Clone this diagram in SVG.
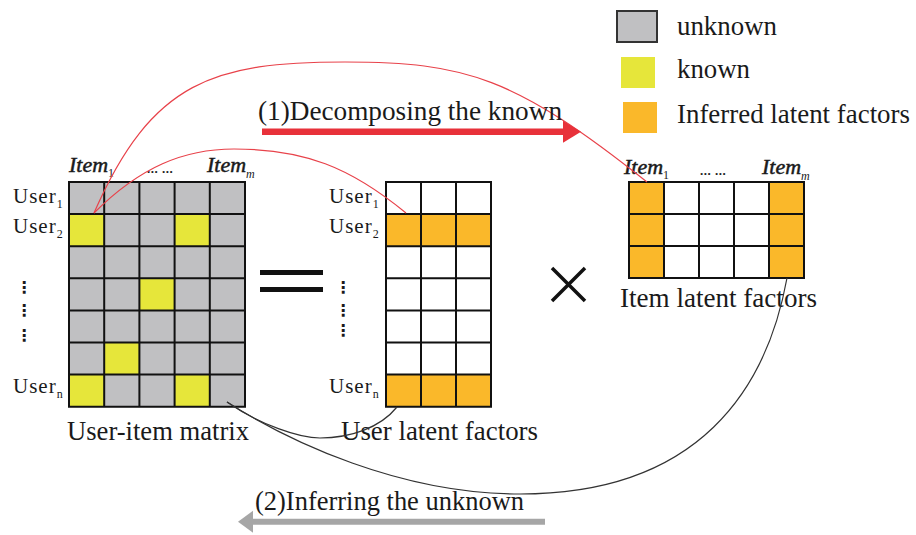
<svg xmlns="http://www.w3.org/2000/svg" width="916" height="535" viewBox="0 0 916 535">
<style>
text{font-family:"Liberation Serif","Times New Roman",serif;fill:#1a1a1a}
.lbl{font-size:27px}
.user{font-size:21px;letter-spacing:1px}
.sub{font-size:12px;letter-spacing:0}
.item{font-size:22px;font-style:italic;stroke:#1a1a1a;stroke-width:0.5}
.isub{font-size:12px;font-style:italic;stroke:none}
.nsub{font-size:12px;font-style:normal;stroke:none}
.dots{font-size:13px;font-weight:bold;letter-spacing:0.5px}
.vd{font-family:"DejaVu Sans",sans-serif;font-size:16px;font-weight:bold}
.grid{fill:none;stroke:#111;stroke-width:2}
.gray{fill:#c0c0c2}
.yel{fill:#e6e63a}
.org{fill:#fab82a}
.wht{fill:#fff}
.red{fill:none;stroke:#e8424a;stroke-width:1.2}
.blk{fill:none;stroke:#333;stroke-width:1.2}
.op{stroke:#111;fill:none}
</style>
<defs>
<marker id="redHead" markerUnits="userSpaceOnUse" markerWidth="20" markerHeight="24" refX="0" refY="11" orient="auto">
<path d="M0,0 L18,11 L0,22 z" fill="#e8313a"/>
</marker>
<marker id="grayHead" markerUnits="userSpaceOnUse" markerWidth="18" markerHeight="24" refX="0" refY="11" orient="auto">
<path d="M0,0 L15,11 L0,22 z" fill="#a6a6a6"/>
</marker>
</defs>

<g id="legend">
<rect x="617" y="11" width="40" height="31" class="gray" stroke="#333" stroke-width="2"/>
<text x="677" y="35" class="lbl" textLength="100" lengthAdjust="spacingAndGlyphs">unknown</text>
<rect x="621" y="57" width="34" height="31" class="yel"/>
<text x="677" y="78" class="lbl" textLength="73" lengthAdjust="spacingAndGlyphs">known</text>
<rect x="623" y="102" width="34" height="31" class="org"/>
<text x="677" y="123" class="lbl" textLength="233" lengthAdjust="spacingAndGlyphs">Inferred latent factors</text>
</g>

<g id="user-item-matrix">
<rect x="69" y="182" width="176" height="224.7" class="gray"/>
<rect x="69" y="214.1" width="35.2" height="32.1" class="yel"/>
<rect x="174.6" y="214.1" width="35.2" height="32.1" class="yel"/>
<rect x="139.4" y="278.3" width="35.2" height="32.1" class="yel"/>
<rect x="104.2" y="342.5" width="35.2" height="32.1" class="yel"/>
<rect x="69" y="374.6" width="35.2" height="32.1" class="yel"/>
<rect x="174.6" y="374.6" width="35.2" height="32.1" class="yel"/>
<path class="grid" d="M69,182H245V406.7H69Z M104.2,182V406.7 M139.4,182V406.7 M174.6,182V406.7 M209.8,182V406.7 M69,214.1H245 M69,246.2H245 M69,278.3H245 M69,310.4H245 M69,342.5H245 M69,374.6H245"/>
<text x="69" y="172" class="item">Item<tspan class="nsub" dy="5">1</tspan></text>
<text x="147" y="173" class="dots">... ...</text>
<text x="207" y="172" class="item">Item<tspan class="isub" dy="6">m</tspan></text>
<text x="13" y="203" class="user">User<tspan class="sub" dy="5">1</tspan></text>
<text x="13" y="233" class="user">User<tspan class="sub" dy="5">2</tspan></text>
<text x="16" y="293" class="vd">⋮</text>
<text x="16" y="316" class="vd">⋮</text>
<text x="16" y="341" class="vd">⋮</text>
<text x="13" y="393" class="user">User<tspan class="sub" dy="5">n</tspan></text>
<text x="67" y="440" class="lbl" textLength="182" lengthAdjust="spacingAndGlyphs">User-item matrix</text>
</g>

<g id="equals">
<rect x="260" y="270" width="63" height="5" fill="#111"/>
<rect x="260" y="287" width="63" height="5" fill="#111"/>
</g>

<g id="user-latent-factors">
<rect x="386" y="182" width="105" height="224.7" class="wht"/>
<rect x="386" y="214.1" width="105" height="32.1" class="org"/>
<rect x="386" y="374.6" width="105" height="32.1" class="org"/>
<path class="grid" d="M386,182H491V406.7H386Z M421,182V406.7 M456,182V406.7 M386,214.1H491 M386,246.2H491 M386,278.3H491 M386,310.4H491 M386,342.5H491 M386,374.6H491"/>
<text x="329" y="203" class="user">User<tspan class="sub" dy="5">1</tspan></text>
<text x="329" y="233" class="user">User<tspan class="sub" dy="5">2</tspan></text>
<text x="335" y="293" class="vd">⋮</text>
<text x="335" y="316" class="vd">⋮</text>
<text x="335" y="336" class="vd">⋮</text>
<text x="329" y="393" class="user">User<tspan class="sub" dy="5">n</tspan></text>
<text x="341" y="440" class="lbl" textLength="197" lengthAdjust="spacingAndGlyphs">User latent factors</text>
</g>

<g id="times">
<path class="op" stroke-width="3.5" d="M552,268 L585,301 M585,268 L552,301"/>
</g>

<g id="item-latent-factors">
<rect x="629" y="182" width="175" height="96" class="wht"/>
<rect x="629" y="182" width="35" height="96" class="org"/>
<rect x="769" y="182" width="35" height="96" class="org"/>
<path class="grid" d="M629,182H804V278H629Z M664,182V278 M699,182V278 M734,182V278 M769,182V278 M629,214H804 M629,246H804"/>
<text x="624" y="174" class="item">Item<tspan class="nsub" dy="5">1</tspan></text>
<text x="700" y="175" class="dots">... ...</text>
<text x="762" y="174" class="item">Item<tspan class="isub" dy="6">m</tspan></text>
<text x="620" y="307" class="lbl" textLength="197" lengthAdjust="spacingAndGlyphs">Item latent factors</text>
</g>

<g id="connectors">
<path class="red" d="M94,213 C152,80 215,62 345,62 C465,62 515,77 647,182"/>
<path class="red" d="M94,213 C140,167 184,149 234,149 C304,149 350,167 406,213"/>
<path class="blk" d="M227,402 C260,425 300,438 320,438 C350,438 380,428 397,407"/>
<path class="blk" d="M227,402 C290,442 400,494 520,494 C700,494 767,388 787,278"/>
<line x1="262" y1="131.7" x2="563" y2="131.7" stroke="#e8313a" stroke-width="6.5" marker-end="url(#redHead)"/>
<line x1="545" y1="521.7" x2="253" y2="521.7" stroke="#a6a6a6" stroke-width="6" marker-end="url(#grayHead)"/>
<text x="258" y="120" class="lbl" textLength="304" lengthAdjust="spacingAndGlyphs">(1)Decomposing the known</text>
<text x="255" y="510" class="lbl" textLength="269" lengthAdjust="spacingAndGlyphs">(2)Inferring the unknown</text>
</g>
</svg>
